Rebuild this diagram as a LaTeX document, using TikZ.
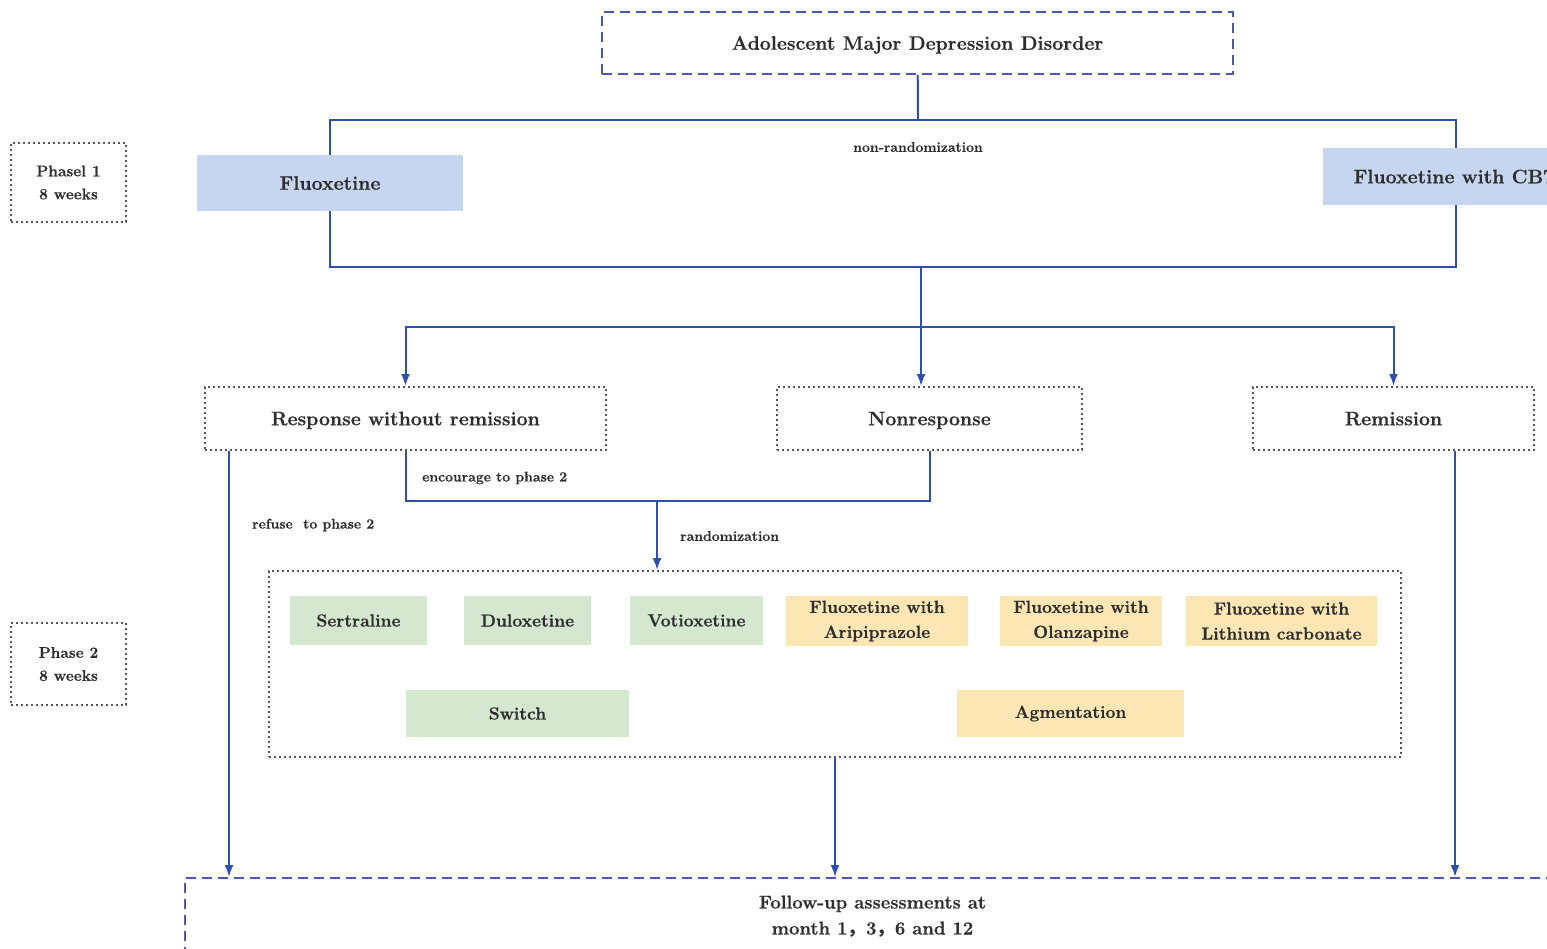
\documentclass[tikz,border=0pt]{standalone}
\usepackage{fontspec}
\setmainfont{Latin Modern Roman}[BoldFeatures={FakeBold=0.6}]
\newfontfamily\cjk{Noto Sans CJK SC}
\usetikzlibrary{arrows.meta}

\definecolor{lineblue}{HTML}{2E4FAE}
\definecolor{dashblue}{HTML}{4A58A8}
\definecolor{dotgray}{HTML}{555555}
\definecolor{fillblue}{HTML}{C6D6F0}
\definecolor{fillgreen}{HTML}{D4E8D0}
\definecolor{fillyellow}{HTML}{FBE6B4}
\definecolor{txtgray}{HTML}{2E2E2E}

\begin{document}
\begin{tikzpicture}[x=1pt, y=-1pt,
    >={Latex[length=12pt,width=9pt]},
    every node/.style={inner sep=0pt, align=center, text=txtgray, font=\bfseries},
    mainbox/.style={draw=dashblue, line width=2pt, dash pattern=on 10pt off 6pt},
    dotbox/.style={draw=dotgray, line width=2pt, dash pattern=on 2pt off 3pt},
    bigtxt/.style={font=\bfseries\fontsize{19.5}{24}\selectfont, text height=16pt, text depth=2.5pt},
    midtxt/.style={font=\bfseries\fontsize{17.5}{25}\selectfont},
    smalltxt/.style={font=\bfseries\fontsize{14}{16}\selectfont},
    phtxt/.style={font=\bfseries\fontsize{15.5}{23}\selectfont},
    drugblue/.style={fill=fillblue, bigtxt},
    druggreen/.style={fill=fillgreen, midtxt},
    drugyellow/.style={fill=fillyellow, midtxt},
    conn/.style={draw=lineblue, line width=2pt}]
        \useasboundingbox (0,0) rectangle (1547,948);
        \clip (0,0) rectangle (1547,948);

        \node[mainbox, bigtxt, minimum width=631pt, minimum height=62pt] (top) at (917.5, 43) {Adolescent Major Depression Disorder};

        % phase 1
        \node[dotbox, phtxt, minimum width=115pt, minimum height=79pt] (ph1) at (68.5, 182.5) {Phasel 1\\8 weeks};
        \node[drugblue, minimum width=266pt, minimum height=56pt] (flx) at (330, 183) {Fluoxetine};
        \node[drugblue, minimum width=266pt, minimum height=57pt] (cbt) at (1456, 176.5) {Fluoxetine with CBT};
        \node[smalltxt] (nonrand) at (918, 147) {non-randomization};

        \coordinate (j1) at (918, 120);
        \coordinate (j2) at (921, 267);
        \coordinate (j3) at (921, 327);
        \draw[conn] (top) -- (j1);
        \draw[conn] (flx.north) |- (j1) -| (cbt.north);
        \draw[conn] (flx.south) |- (j2) -| (cbt.south);

        % outcomes
        \node[dotbox, bigtxt, minimum width=401pt, minimum height=63pt] (resp) at (405.5, 418.5) {Response without remission};
        \node[dotbox, bigtxt, minimum width=305pt, minimum height=63pt] (nonr) at (929.5, 418.5) {Nonresponse};
        \node[dotbox, bigtxt, minimum width=281pt, minimum height=63pt] (remi) at (1393.5, 418.5) {Remission};

        \draw[conn, ->] (j2) -- (j2 |- nonr.north);
        \draw[conn, ->] (j3) -| (resp.north);
        \draw[conn, ->] (j3) -| (remi.north);

        \coordinate (j4) at (657, 501);
        \draw[conn] (resp.south) |- (j4) -| (nonr.south);
        \node[smalltxt, anchor=west] (enc) at (422, 478) {encourage to phase 2};
        \node[smalltxt, anchor=west] (refuse) at (252, 525) {refuse~ to phase 2};
        \node[smalltxt, anchor=west] (rand) at (680, 536) {randomization};

        % phase 2
        \node[dotbox, phtxt, minimum width=115pt, minimum height=82pt] (ph2) at (68.5, 664) {Phase 2\\8 weeks};
        \node[dotbox, minimum width=1132pt, minimum height=186pt] (ph2box) at (835, 664) {};
        \draw[conn, ->] (j4) -- (j4 |- ph2box.north);

        \node[druggreen, minimum width=137pt, minimum height=49pt] (sert) at (358.5, 620.5) {Sertraline};
        \node[druggreen, minimum width=127pt, minimum height=49pt] (dulo) at (527.5, 620.5) {Duloxetine};
        \node[druggreen, minimum width=133pt, minimum height=49pt] (voti) at (696.5, 620.5) {Votioxetine};
        \node[drugyellow, minimum width=182pt, minimum height=50pt] (arip) at (877, 621) {Fluoxetine with\\Aripiprazole};
        \node[drugyellow, minimum width=162pt, minimum height=50pt] (olan) at (1081, 621) {Fluoxetine with\\Olanzapine};
        \node[drugyellow, minimum width=191pt, minimum height=50pt] (lith) at (1281.5, 621) {Fluoxetine with\\Lithium carbonate};
        \node[druggreen, minimum width=223pt, minimum height=47pt] (switch) at (517.5, 713.5) {Switch};
        \node[drugyellow, minimum width=227pt, minimum height=47pt] (augm) at (1070.5, 713.5) {Agmentation};

        % follow-up
        \node[mainbox, minimum width=1375pt, minimum height=77pt, font=\bfseries\fontsize{18.5}{26}\selectfont] (fup) at (872.5, 916.5) {Follow-up assessments at\\month 1{\cjk ，}3{\cjk ，}6 and 12};

        \draw[conn, ->] ([xshift=25pt]resp.south west) -- ([xshift=25pt]resp.south west |- fup.north);
        \draw[conn, ->] (ph2box.south) -- (ph2box.south |- fup.north);
        \draw[conn, ->] ([xshift=61.5pt]remi.south) -- ([xshift=61.5pt]remi.south |- fup.north);
    \end{tikzpicture}
\end{document}
